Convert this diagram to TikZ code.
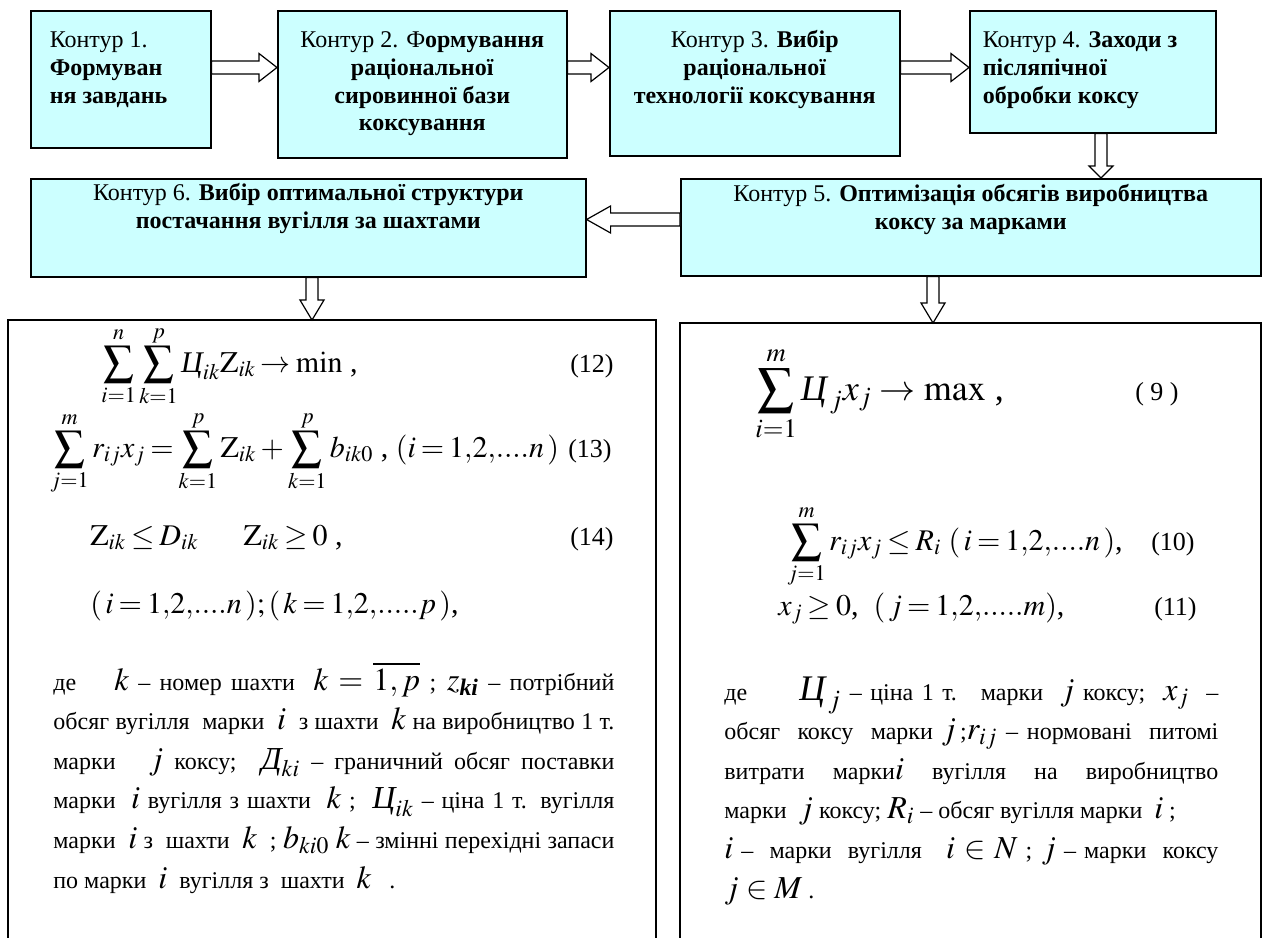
\documentclass[tikz,border=0pt]{standalone}
\usepackage{amsmath}
\usepackage{mathptmx}
\usepackage[no-math]{fontspec}
\setmainfont{Liberation Serif}
\usetikzlibrary{calc}
\definecolor{boxcyan}{HTML}{CCFFFF}
\newcommand{\mth}[1]{{\fontsize{16pt}{16pt}\selectfont$#1$}}
\newcommand{\cyr}[1]{\text{\itshape #1}}

\begin{document}
\begin{tikzpicture}[x=0.5pt, y=-0.5pt,
  kbox/.style={draw, line width=0.8pt, fill=boxcyan, anchor=north west,
               inner sep=0pt, font=\fontsize{12pt}{13.8pt}\selectfont},
  bigbox/.style={anchor=north west, inner sep=0pt},
  frame/.style={line width=0.9pt},
  eqn/.style={anchor=base west, inner sep=0pt,
              font={\fontsize{15pt}{18pt}\selectfont\thickmuskip=3mu plus 2mu\medmuskip=2.5mu plus 1mu}},
  eqbig/.style={anchor=base west, inner sep=0pt, font=\fontsize{18pt}{21pt}\selectfont},
  num/.style={anchor=base east, inner sep=0pt, font=\fontsize{13pt}{15pt}\selectfont},
  para/.style={anchor=base west, inner sep=0pt, align=justify,
               font={\fontsize{12pt}{19.8pt}\selectfont\lineskiplimit=-30pt\hyphenpenalty=10000}},
  blk/.style n args={3}{draw, fill=white, line width=0.6pt,
    to path={($(\tikztostart)!#1!90:(\tikztotarget)$)
      -- ($($(\tikztotarget)!#3!(\tikztostart)$)!#1!90:(\tikztotarget)$)
      -- ($($(\tikztotarget)!#3!(\tikztostart)$)!#2!90:(\tikztotarget)$)
      -- (\tikztotarget)
      -- ($($(\tikztotarget)!#3!(\tikztostart)$)!#2!-90:(\tikztotarget)$)
      -- ($($(\tikztotarget)!#3!(\tikztostart)$)!#1!-90:(\tikztotarget)$)
      -- ($(\tikztostart)!#1!-90:(\tikztotarget)$) -- cycle}}
]
\useasboundingbox (0,0) rectangle (1265,938);

% contours
\node[kbox] (k1) at (30,10) {\parbox[c][68.5pt][t]{90pt}{\raggedright\leftskip=9.5pt
  \rule{0pt}{18.5pt}Контур 1.\\ \textbf{Формуван}\\ \textbf{ня завдань}}};
\node[kbox] (k2) at (277,10) {\parbox[c][73.5pt][t]{144.5pt}{\centering
  \rule{0pt}{18.5pt}Контур 2. Ф\textbf{ормування}\\ \textbf{раціональної}\\
  \textbf{сировинної бази}\\ \textbf{коксування}}};
\node[kbox] (k3) at (609,10) {\parbox[c][72.5pt][t]{145pt}{\centering
  \rule{0pt}{18.5pt}Контур 3. \textbf{Вибір}\\ \textbf{раціональної}\\
  \textbf{технології коксування}}};
\node[kbox] (k4) at (969,10) {\parbox[c][61pt][t]{123pt}{\raggedright\leftskip=6.5pt
  \rule{0pt}{18.5pt}Контур 4. \textbf{Заходи з}\\ \textbf{післяпічної}\\
  \textbf{обробки коксу}}};
\node[kbox] (k6) at (30,178) {\parbox[c][49pt][t]{277.5pt}{\centering
  \rule{0pt}{11pt}Контур 6. \textbf{Вибір оптимальної структури}\\
  \textbf{постачання вугілля за шахтами}}};
\node[kbox] (k5) at (680,178) {\parbox[c][48.5pt][t]{290pt}{\centering
  \rule{0pt}{11.5pt}Контур 5. \textbf{Оптимізація обсягів виробництва}\\
  \textbf{коксу за марками}}};

% model frames, open at the bottom
\node[bigbox, minimum width=323.5pt, minimum height=309pt] (bigL) at (8,320) {};
\node[bigbox, minimum width=290pt, minimum height=307.5pt] (bigR) at (680,323) {};
\draw[frame] (bigL.south west) -- (bigL.north west) -- (bigL.north east) -- (bigL.south east);
\draw[frame] (bigR.south west) -- (bigR.north west) -- (bigR.north east) -- (bigR.south east);

% left model
\node[eqn] (eq12) at (101,372)
  {$\displaystyle\sum_{i=1}^{n}\sum_{k=1}^{p}\cyr{Ц}_{ik}\mathrm{Z}_{ik}\to\min$ ,};
\node[num] (n12) at (614,372) {(12)};
\node[eqn] (eq13) at (50,457)
  {$\displaystyle\sum_{j=1}^{m}r_{ij}x_j=\sum_{k=1}^{p}\mathrm{Z}_{ik}+\sum_{k=1}^{p}b_{ik0}$ ,\ $(i=1{,}2{,}....n\,)$};
\node[num] (n13) at (612,457) {(13)};
\node[eqn] (eq14) at (90,545)
  {$\mathrm{Z}_{ik}\le D_{ik}\quad\ \ \mathrm{Z}_{ik}\ge 0$ ,};
\node[num] (n14) at (614,545) {(14)};
\node[eqn] (eqik) at (90,613)
  {$(\,i=1{,}2{,}....n\,);(\,k=1{,}2{,}.....p\,)$,};
\node[para, text width=280.5pt] (txtL) at (53,690)
  {де\hspace{19pt}\mth{k} – номер шахти \ \mth{k=\overline{1,p}} ; \mth{z_{\text{\bfseries\itshape ki}}} – потрібний\linebreak
   обсяг вугілля \ марки \ \mth{i} \ з шахти \ \mth{k} на виробництво 1 т.\linebreak
   марки \ \ \mth{j} коксу; \ \mth{\cyr{Д}_{ki}} – граничний обсяг поставки\linebreak
   марки \ \mth{i} вугілля з шахти \ \mth{k} ; \ \mth{\cyr{Ц}_{ik}} – ціна 1 т. вугілля\linebreak
   марки \ \mth{i} з \ шахти \ \mth{k} \ ; \mth{b_{ki0}} \mth{k} – змінні перехідні запаси\linebreak
   по марки \ \mth{i} \ вугілля з \ шахти \ \mth{k} \ \ .};

% right model
\node[eqbig] (eq9) at (755,400)
  {$\displaystyle\sum_{i=1}^{m}\cyr{Ц}_{\,j}x_j\to\max$ ,};
\node[num] (n9) at (1179,400) {( 9 )};
\node[eqn] (eq10) at (787,550)
  {$\displaystyle\sum_{j=1}^{m}r_{ij}x_j\le R_i$ $(\,i=1{,}2{,}....n\,)$,};
\node[num] (n10) at (1195,550) {(10)};
\node[eqn] (eq11) at (778,615)
  {$x_j\ge 0$,\ \ $(\,j=1{,}2{,}.....m)$,};
\node[num] (n11) at (1197,615) {(11)};
\node[para, text width=247pt] (txtR) at (724,700)
  {де\hspace{26pt}{\fontsize{18pt}{18pt}\selectfont$\cyr{Ц}_{\,j}$} – ціна 1 т. \ марки \ \mth{j} коксу; \ \mth{x_j} \ –\linebreak
   обсяг \ коксу \ марки \mth{j}\,;\mth{r_{ij}} – нормовані \ питомі\linebreak
   витрати \ марки\mth{i} \ вугілля \ на \ виробництво\linebreak
   марки \ \mth{j} коксу; \mth{R_i} – обсяг вугілля марки \ \mth{i} ;\newline
   \mth{i} – \ марки \ вугілля \ \ \mth{i\in N} ; \mth{j} – марки \ коксу\linebreak
   \,\mth{j\in M} .};

% block arrows
\draw[blk={3.25pt}{7pt}{9pt}] (k1.east |- 0,67.5) to (k2.west |- 0,67.5);
\draw[blk={3.25pt}{7pt}{9pt}] (k2.east |- 0,67.5) to (k3.west |- 0,67.5);
\draw[blk={3.25pt}{7pt}{9pt}] (k3.east |- 0,67.5) to (k4.west |- 0,67.5);
\draw[blk={3pt}{6pt}{6pt}] (k4.south -| 1101,0) to (k5.north -| 1101,0);
\draw[blk={3.25pt}{6.75pt}{12pt}] (k5.west |- 0,219.5) to (k6.east |- 0,219.5);
\draw[blk={3pt}{6pt}{10pt}] (k6.south -| 312,0) to (bigL.north -| 312,0);
\draw[blk={3pt}{6pt}{10pt}] (k5.south -| 933,0) to (bigR.north -| 933,0);

\end{tikzpicture}
\end{document}
